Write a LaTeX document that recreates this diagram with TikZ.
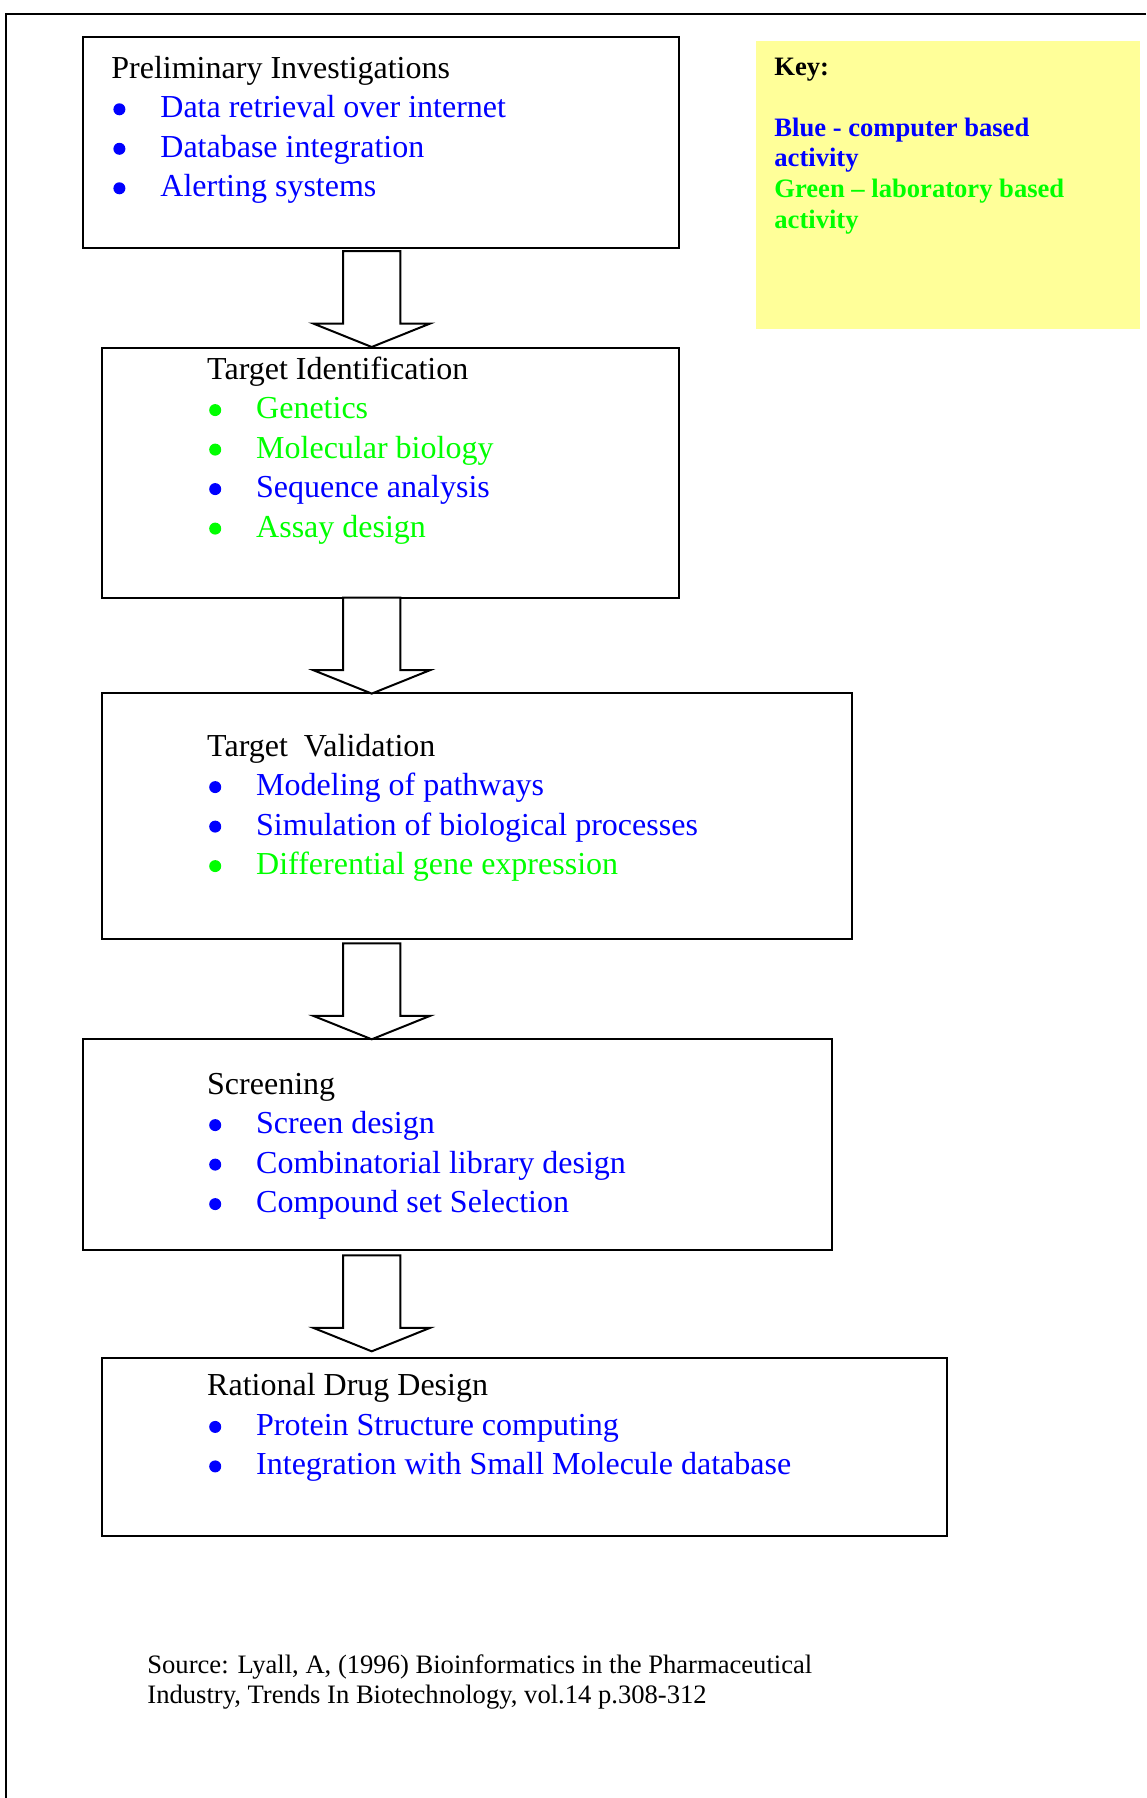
\documentclass[tikz,border=0pt]{standalone}
\usepackage{fontspec}
\setmainfont{Liberation Serif}
\usetikzlibrary{calc}

\definecolor{actblue}{RGB}{0,0,255}
\definecolor{actgreen}{RGB}{0,255,0}
\definecolor{keyyellow}{RGB}{255,255,153}

% bullet dot and bullet line
\newcommand{\bdot}[1]{\tikz[baseline=0pt]\fill[#1] (0pt,4.2pt) circle[radius=3pt];}
\newcommand{\bitem}[2]{\makebox[24.5pt][l]{\hspace{1pt}\bdot{#1}}\textcolor{#1}{#2}}

\begin{document}
\begin{tikzpicture}[x=1pt,y=-1pt,
		stage/.style={draw,line width=1pt,anchor=north west,inner sep=0pt,outer sep=0pt},
		stagetext/.style={anchor=base west,inner sep=0pt,font=\fontsize{16}{19.75}\selectfont},
		keytext/.style={anchor=base west,inner sep=0pt,font=\fontsize{13.3}{15.3}\selectfont\bfseries},
		sourcetext/.style={anchor=base west,inner sep=0pt,font=\fontsize{13.3}{15}\selectfont},
		bigarrow/.style={draw,line width=1pt,fill=white,line join=miter}]
	\useasboundingbox (0,0) rectangle (573,899);
	\draw[line width=1pt] (573,6.9) -- (2.85,6.9) -- (2.85,899);

	% stages
	\node[stage,minimum width=298.2pt,minimum height=105.5pt] (prelim) at (41.3,18.35) {};
	\node[stage,minimum width=288.5pt,minimum height=124.95pt] (ident) at (51,173.85) {};
	\node[stage,minimum width=374.85pt,minimum height=122.7pt] (valid) at (51,346.65) {};
	\node[stage,minimum width=374.85pt,minimum height=105.55pt] (screen) at (41.3,519.65) {};
	\node[stage,minimum width=422.65pt,minimum height=89pt] (design) at (51,678.85) {};

	% key
	\node[anchor=north west,fill=keyyellow,inner sep=0pt,outer sep=0pt,minimum width=192pt,minimum height=143.75pt] (key) at (378,20.75) {};
	\node[keytext] (keylabel) at (387,37.6) {\begin{tabular}[t]{@{}l@{}}Key:\\ \\
		\textcolor{actblue}{Blue - computer based}\\ \textcolor{actblue}{activity}\\
		\textcolor{actgreen}{Green – laboratory based}\\ \textcolor{actgreen}{activity}\end{tabular}};

	% texts
	\node[stagetext] (prelimtext) at (55.5,39.1) {\begin{tabular}[t]{@{}l@{}}Preliminary Investigations\\
		\bitem{actblue}{Data retrieval over internet}\\
		\bitem{actblue}{Database integration}\\
		\bitem{actblue}{Alerting systems}\end{tabular}};
	\node[stagetext] (identtext) at (103.4,189.5) {\begin{tabular}[t]{@{}l@{}}Target Identification\\
		\bitem{actgreen}{Genetics}\\
		\bitem{actgreen}{Molecular biology}\\
		\bitem{actblue}{Sequence analysis}\\
		\bitem{actgreen}{Assay design}\end{tabular}};
	\node[stagetext] (validtext) at (103.4,378) {\begin{tabular}[t]{@{}l@{}}Target~~Validation\\
		\bitem{actblue}{Modeling of pathways}\\
		\bitem{actblue}{Simulation of biological processes}\\
		\bitem{actgreen}{Differential gene expression}\end{tabular}};
	\node[stagetext] (screentext) at (103.4,547) {\begin{tabular}[t]{@{}l@{}}Screening\\
		\bitem{actblue}{Screen design}\\
		\bitem{actblue}{Combinatorial library design}\\
		\bitem{actblue}{Compound set Selection}\end{tabular}};
	\node[stagetext] (designtext) at (103.4,697.9) {\begin{tabular}[t]{@{}l@{}}Rational Drug Design\\
		\bitem{actblue}{Protein Structure computing}\\
		\bitem{actblue}{Integration with Small Molecule database}\end{tabular}};

	\node[sourcetext] (source) at (73.5,836.65) {\begin{tabular}[t]{@{}l@{}}Source: Lyall, A, (1996) Bioinformatics in the Pharmaceutical\\
		Industry, Trends In Biotechnology, vol.14 p.308-312\end{tabular}};

	% connection
	\coordinate (ax) at (185.85,0);
	\draw[bigarrow] ($(prelim.south -| ax)+(-14.3,1.65)$) -- ++(28.6,0) -- ++(0,36.25) -- ++(14.95,0)
		-- ++(-29.25,11.75) -- ++(-29.25,-11.75) -- ++(14.95,0) -- cycle;
	\draw[bigarrow] ($(ident.south -| ax)+(-14.3,0)$) -- ++(28.6,0) -- ++(0,36.25) -- ++(14.95,0)
		-- ++(-29.25,11.75) -- ++(-29.25,-11.75) -- ++(14.95,0) -- cycle;
	\draw[bigarrow] ($(valid.south -| ax)+(-14.3,2.3)$) -- ++(28.6,0) -- ++(0,36.25) -- ++(14.95,0)
		-- ++(-29.25,11.75) -- ++(-29.25,-11.75) -- ++(14.95,0) -- cycle;
	\draw[bigarrow] ($(screen.south -| ax)+(-14.3,2.45)$) -- ++(28.6,0) -- ++(0,36.25) -- ++(14.95,0)
		-- ++(-29.25,11.75) -- ++(-29.25,-11.75) -- ++(14.95,0) -- cycle;
\end{tikzpicture}
\end{document}
